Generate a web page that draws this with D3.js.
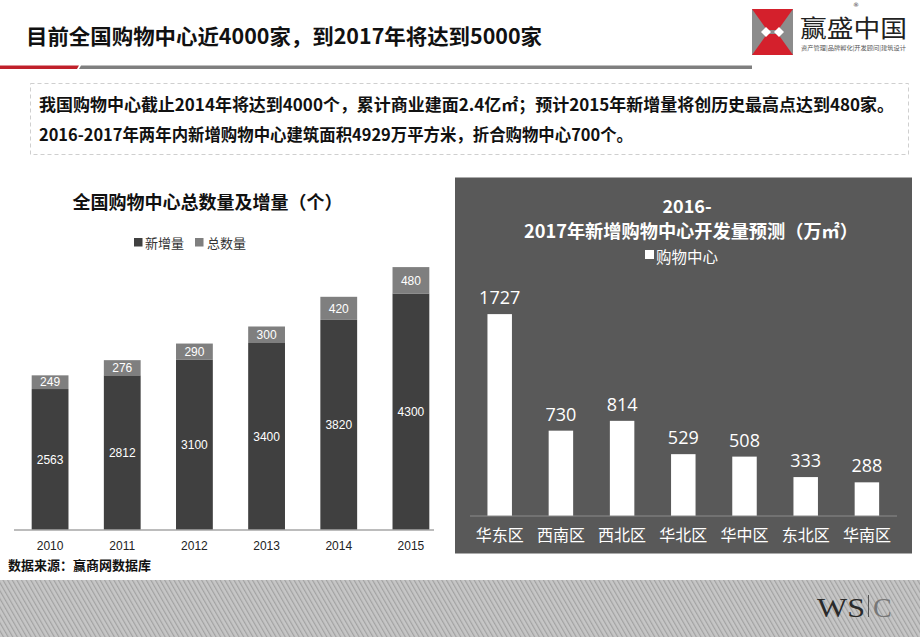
<!DOCTYPE html>
<html><head><meta charset="utf-8">
<script src="https://cdnjs.cloudflare.com/ajax/libs/d3/7.8.5/d3.min.js"></script>
<style>
html,body{margin:0;padding:0;background:#fff;}
svg{display:block;}
</style></head>
<body>
<svg id="c" width="920" height="637"></svg>
<script>
// ---- data ----
const pageTitle = "目前全国购物中心近4000家，到2017年将达到5000家";
const summaryLines = [
  "我国购物中心截止2014年将达到4000个，累计商业建面2.4亿㎡；预计2015年新增量将创历史最高点达到480家。",
  "2016-2017年两年内新增购物中心建筑面积4929万平方米，折合购物中心700个。"
];
const years = ["2010","2011","2012","2013","2014","2015"];
const newAdded = [2563, 2812, 3100, 3400, 3820, 4300];   // dark segment (legend 新增量)
const totalCount = [249, 276, 290, 300, 420, 480];        // grey segment (legend 总数量)
const leftTitle = "全国购物中心总数量及增量（个）";
const leftLegend = ["新增量", "总数量"];
const sourceNote = "数据来源：赢商网数据库";

const regions = ["华东区","西南区","西北区","华北区","华中区","东北区","华南区"];
const newArea = [1727, 730, 814, 529, 508, 333, 288];
const rightTitle = ["2016-", "2017年新增购物中心开发量预测（万㎡）"];
const rightLegend = "购物中心";

// ---- drawing ----
const svg = d3.select("#c");
const CJK = "'Noto Sans CJK SC','Noto Sans',sans-serif";
const defs = svg.append("defs");
const pat = defs.append("pattern").attr("id","hatch").attr("patternUnits","userSpaceOnUse")
  .attr("width",4).attr("height",4).attr("patternTransform","rotate(-30)");
pat.append("rect").attr("width",4).attr("height",4).attr("fill","#c6c6c6");
pat.append("rect").attr("width",1.2).attr("height",4).attr("fill","#a2a2a2");

// header
svg.append("text").attr("x",26).attr("y",44).attr("font-family",CJK).attr("font-weight",700)
  .attr("font-size",21).attr("fill","#111").attr("textLength",516).attr("lengthAdjust","spacingAndGlyphs")
  .text(pageTitle);
svg.append("polygon").attr("points","0,65.5 79,65.5 77,69 0,69").attr("fill","#c0202a");
svg.append("polygon").attr("points","81,65.5 752,65.5 752,69 79,69").attr("fill","#7f7f7f");

// logo
const lg = svg.append("g");
lg.append("rect").attr("x",752).attr("y",9).attr("width",41).attr("height",46).attr("fill","#8c8c8c");
lg.append("polygon").attr("points","752,9 793,9 778,30 767,30").attr("fill","#d4202c");
lg.append("polygon").attr("points","752,55 793,55 778,34 767,34").attr("fill","#d4202c");
lg.append("polygon").attr("points","761,32 766,27 771,32 766,37").attr("fill","#fff");
lg.append("polygon").attr("points","774,32 779,27 784,32 779,37").attr("fill","#fff");
lg.append("text").attr("x",800).attr("y",37).attr("font-family","'Noto Sans CJK SC',serif").attr("font-weight",400)
  .attr("font-size",24).attr("fill","#222").attr("textLength",107).attr("lengthAdjust","spacingAndGlyphs").text("赢盛中国");
lg.append("text").attr("x",853).attr("y",7).attr("font-family","'DejaVu Sans'").attr("font-size",6).attr("fill","#333").text("®");
lg.append("text").attr("x",801).attr("y",50).attr("font-family",CJK).attr("font-size",6).attr("fill","#555")
  .attr("textLength",105).attr("lengthAdjust","spacingAndGlyphs").text("资产管理|品牌孵化|开发顾问|建筑设计");

// summary box
svg.append("rect").attr("x",30.5).attr("y",83.5).attr("width",878).attr("height",71)
  .attr("fill","none").attr("stroke","#cfcfcf").attr("stroke-dasharray","4,3");
svg.append("text").attr("x",39).attr("y",111).attr("font-family",CJK).attr("font-weight",700).attr("font-size",16.5)
  .attr("fill","#111").attr("textLength",855).attr("lengthAdjust","spacingAndGlyphs").text(summaryLines[0]);
svg.append("text").attr("x",39).attr("y",141).attr("font-family",CJK).attr("font-weight",700).attr("font-size",16.5)
  .attr("fill","#111").attr("textLength",594).attr("lengthAdjust","spacingAndGlyphs").text(summaryLines[1]);

// ---- left chart ----
const darkC = "#404040", greyC = "#7f7f7f";
const xL = d3.scaleBand().domain(years).range([14, 447]).paddingInner(0.49).paddingOuter(0.245);
const yL = d3.scaleLinear().domain([0, 5000]).range([530, 255]);

svg.append("text").attr("x",207.5).attr("y",209).attr("text-anchor","middle").attr("font-family",CJK)
  .attr("font-weight",700).attr("font-size",18).attr("fill","#111").text(leftTitle);

const legL = svg.append("g").attr("font-family",CJK).attr("font-size",13).attr("fill","#333");
[[134, darkC, leftLegend[0], 145],[195, greyC, leftLegend[1], 207]].forEach(d=>{
  legL.append("rect").attr("x",d[0]).attr("y",238).attr("width",8.5).attr("height",8.5).attr("fill",d[1]);
  legL.append("text").attr("x",d[3]).attr("y",247.5).text(d[2]);
});

const gL = svg.append("g");
years.forEach((yr,i)=>{
  const x = xL(yr), w = xL.bandwidth();
  const y0 = yL(0), y1 = yL(newAdded[i]), y2 = yL(newAdded[i] + totalCount[i]);
  gL.append("rect").attr("x",x).attr("y",y1).attr("width",w).attr("height",y0-y1).attr("fill",darkC);
  gL.append("rect").attr("x",x).attr("y",y2).attr("width",w).attr("height",y1-y2).attr("fill",greyC);
  gL.append("text").attr("x",x+w/2).attr("y",(y0+y1)/2).attr("dy","0.35em").attr("text-anchor","middle")
    .attr("font-family","'Liberation Sans',Arial,sans-serif").attr("font-size",12).attr("fill","#fff").text(newAdded[i]);
  gL.append("text").attr("x",x+w/2).attr("y",(y1+y2)/2).attr("dy","0.35em").attr("text-anchor","middle")
    .attr("font-family","'Liberation Sans',Arial,sans-serif").attr("font-size",12).attr("fill","#fff").text(totalCount[i]);
});
const axL = svg.append("g").attr("transform","translate(0,530)")
  .call(d3.axisBottom(xL).tickSize(0).tickPadding(11));
axL.select(".domain").attr("stroke","#a6a6a6").attr("stroke-width",1.5).attr("d","M14,0H434");
axL.selectAll("text").attr("font-family","'Liberation Sans',Arial,sans-serif").attr("font-size",12).attr("fill","#222");

svg.append("text").attr("x",8).attr("y",570).attr("font-family",CJK).attr("font-weight",700)
  .attr("font-size",13).attr("fill","#111").text(sourceNote);

// ---- right chart ----
svg.append("rect").attr("x",455).attr("y",177.5).attr("width",457).attr("height",376).attr("fill","#595959");
svg.append("text").attr("x",687).attr("y",213).attr("text-anchor","middle").attr("font-family",CJK)
  .attr("font-weight",700).attr("font-size",18).attr("fill","#fff").text(rightTitle[0]);
svg.append("text").attr("x",691).attr("y",238).attr("text-anchor","middle").attr("font-family",CJK)
  .attr("font-weight",700).attr("font-size",18).attr("fill","#fff")
  .attr("textLength",334).attr("lengthAdjust","spacingAndGlyphs").text(rightTitle[1]);
svg.append("rect").attr("x",645).attr("y",250).attr("width",9).attr("height",9).attr("fill","#fff");
svg.append("text").attr("x",656).attr("y",262.5).attr("font-family",CJK).attr("font-size",15.5)
  .attr("fill","#fff").text(rightLegend);

const xR = d3.scaleBand().domain(regions).range([469.1, 897.5]).paddingInner(0.6).paddingOuter(0.3);
const yR = d3.scaleLinear().domain([0, 2000]).range([516, 282.2]);
const gR = svg.append("g");
regions.forEach((r,i)=>{
  const x = xR(r), w = xR.bandwidth();
  gR.append("rect").attr("x",x).attr("y",yR(newArea[i])).attr("width",w).attr("height",yR(0)-yR(newArea[i])).attr("fill","#fff");
  gR.append("text").attr("x",x+w/2).attr("y",yR(newArea[i])-10).attr("text-anchor","middle")
    .attr("font-family","'Open Sans','Noto Sans',sans-serif").attr("font-size",18).attr("fill","#fff").text(newArea[i]);
});
const axR = svg.append("g").attr("transform","translate(0,516)")
  .call(d3.axisBottom(xR).tickSize(0).tickPadding(14));
axR.select(".domain").attr("stroke","#8c8c8c").attr("stroke-width",1.2).attr("d","M470,0H897");
axR.selectAll("text").attr("font-family",CJK).attr("font-size",16).attr("fill","#fff");

// ---- footer ----
svg.append("rect").attr("x",0).attr("y",580).attr("width",920).attr("height",57).attr("fill","url(#hatch)");
svg.append("text").attr("x",817).attr("y",617).attr("font-family","'Liberation Serif',serif").attr("font-size",28)
  .attr("fill","#2a2a2a").attr("textLength",48).attr("lengthAdjust","spacingAndGlyphs").text("WS");
svg.append("rect").attr("x",868).attr("y",595).attr("width",1).attr("height",22).attr("fill","#555");
svg.append("text").attr("x",873).attr("y",617).attr("font-family","'Liberation Serif',serif").attr("font-size",28)
  .attr("fill","#777").text("C");
</script>
</body></html>
